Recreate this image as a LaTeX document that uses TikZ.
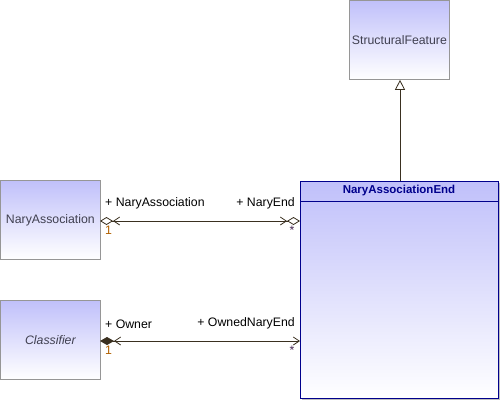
\documentclass[tikz,border=0pt]{standalone}
\usepackage{fontspec}
\setmainfont{Liberation Sans}
\usetikzlibrary{arrows.meta}
\definecolor{lav}{RGB}{192,192,250}
\definecolor{boxline}{RGB}{150,150,150}
\definecolor{navy}{RGB}{0,0,140}
\definecolor{conn}{RGB}{58,48,32}
\definecolor{mult}{RGB}{176,96,0}
\definecolor{nametext}{RGB}{64,64,80}
\tikzset{
  nav/.tip={Straight Barb[length=6pt,width=8pt,line width=0.8pt]},
  odia/.tip={Diamond[open,fill=white,length=13pt,width=8pt,line width=0.8pt]},
  fdia/.tip={Diamond[fill=conn,length=14pt,width=8pt]}
}
\begin{document}
\begin{tikzpicture}[x=1pt,y=-1pt,
  cls/.style={draw=boxline,line width=0.8pt,top color=lav,bottom color=white,
    minimum width=100pt,minimum height=79pt,inner sep=0pt,anchor=north west,
    font=\fontsize{12.3}{14}\selectfont,text=nametext},
  lbl/.style={font=\fontsize{12.3}{14}\selectfont,inner sep=0pt,text=black},
  mul/.style={font=\fontsize{12.3}{14}\selectfont,inner sep=0pt,text=mult},
  assoc/.style={draw=conn,line width=0.8pt}
]
\useasboundingbox (0,0) rectangle (500,400);

% classes
\node[cls] (sf) at (349,0) {StructuralFeature};
\node[cls] (na) at (0,180) {NaryAssociation};
\node[cls] (cl) at (0,300) {\itshape Classifier};

% NaryAssociationEnd
\fill[gray!50] (302,183) rectangle (500,400);
\node[draw=navy,line width=1pt,top color=lav,bottom color=white,
  minimum width=198pt,minimum height=217pt,inner sep=0pt,anchor=north west]
  (nae) at (300,181) {};
\draw[navy,line width=0.8pt] (300,201) -- (498,201);
\node[font=\bfseries\fontsize{11.5}{13}\selectfont,text=navy,inner sep=0pt]
  (naet) at (399,191) {NaryAssociationEnd};

% generalization
\draw[conn,line width=0.8pt,-{Triangle[open,fill=white,length=10pt,width=10pt,line width=0.8pt]}]
  (nae.north -| 400,0) -- (sf.south -| 400,0);

% association 1
\coordinate (a1l) at (100,221);
\coordinate (a1r) at (300,221);
\draw[assoc,{odia[] nav[]}-{nav[] odia[]}] (a1l) -- (a1r);
\node[lbl,anchor=south west] (l1) at (105,209) {+ NaryAssociation};
\node[lbl,anchor=south east] (l2) at (295,209) {+ NaryEnd};
\node[mul,anchor=north west] (m1) at (105,226) {1};
\node[mul,anchor=north,text=navy!60!mult] (m2) at (292,226) {*};

% association 2
\coordinate (a2l) at (100,341);
\coordinate (a2r) at (300,341);
\draw[assoc,{fdia[] nav[]}-{nav[]}] (a2l) -- (a2r);
\node[lbl,anchor=south west] (l3) at (105,329) {+ Owner};
\node[lbl,anchor=south east] (l4) at (295,329) {+ OwnedNaryEnd};
\node[mul,anchor=north west] (m3) at (105,346) {1};
\node[mul,anchor=north,text=navy!60!mult] (m4) at (292,346) {*};
\end{tikzpicture}
\end{document}
